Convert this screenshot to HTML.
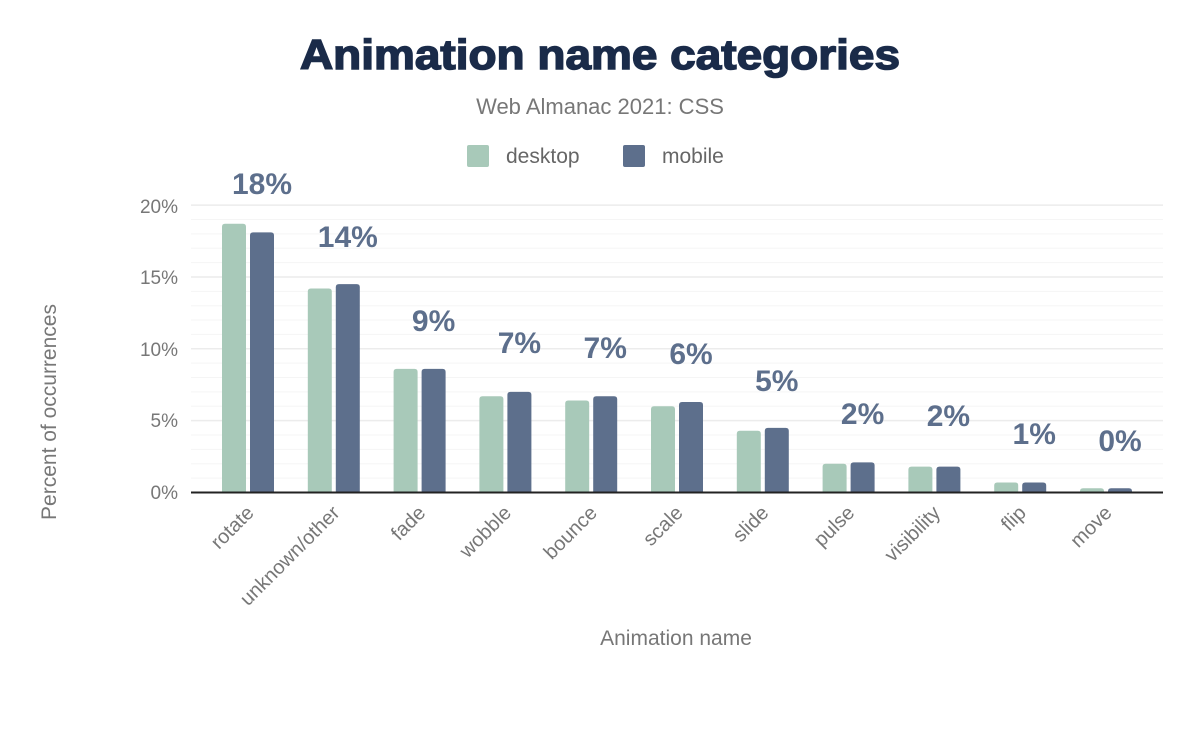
<!DOCTYPE html>
<html><head><meta charset="utf-8"><style>
body{margin:0;background:#fff;}
svg text{font-family:"Liberation Sans",sans-serif;}
</style></head><body>
<svg width="1200" height="742" viewBox="0 0 1200 742" xmlns="http://www.w3.org/2000/svg">
<rect width="1200" height="742" fill="#fff"/>
<text x="600" y="69" text-anchor="middle" font-size="42" font-weight="900" fill="#1a2b49" stroke="#1a2b49" stroke-width="1.5" textLength="600" lengthAdjust="spacingAndGlyphs">Animation name categories</text>
<text x="600" y="114" text-anchor="middle" font-size="22" fill="#777">Web Almanac 2021: CSS</text>
<rect x="467" y="145" width="22" height="22" rx="2" fill="#a8c9b9"/>
<text x="506" y="163" font-size="21" fill="#666">desktop</text>
<rect x="623" y="145" width="22" height="22" rx="2" fill="#5d6f8c"/>
<text x="662" y="163" font-size="21" fill="#666">mobile</text>
<g id="grid"></g>
<g id="bars"></g>
<line x1="191" y1="492.5" x2="1163" y2="492.5" stroke="#222" stroke-width="2"/>
<g font-size="19" fill="#777" text-anchor="end">
<text x="178" y="499">0%</text><text x="178" y="427">5%</text><text x="178" y="356">10%</text><text x="178" y="284">15%</text><text x="178" y="213">20%</text>
</g>
<g font-size="30" font-weight="bold" fill="#5d6f8c" text-anchor="middle">
<text x="262" y="194">18%</text>
<text x="347.8" y="247">14%</text>
<text x="433.6" y="331">9%</text>
<text x="519.4" y="353">7%</text>
<text x="605.2" y="358">7%</text>
<text x="691" y="364">6%</text>
<text x="776.8" y="391">5%</text>
<text x="862.6" y="424">2%</text>
<text x="948.4" y="426">2%</text>
<text x="1034.2" y="444">1%</text>
<text x="1120" y="451">0%</text>
</g>
<g font-size="20" fill="#777" text-anchor="end">
<text transform="translate(255,514) rotate(-45)">rotate</text>
<text transform="translate(340.8,514) rotate(-45)">unknown/other</text>
<text transform="translate(426.6,514) rotate(-45)">fade</text>
<text transform="translate(512.4,514) rotate(-45)">wobble</text>
<text transform="translate(598.2,514) rotate(-45)">bounce</text>
<text transform="translate(684,514) rotate(-45)">scale</text>
<text transform="translate(769.8,514) rotate(-45)">slide</text>
<text transform="translate(855.6,514) rotate(-45)">pulse</text>
<text transform="translate(941.4,514) rotate(-45)">visibility</text>
<text transform="translate(1027.2,514) rotate(-45)">flip</text>
<text transform="translate(1113,514) rotate(-45)">move</text>
</g>
<text transform="translate(56,412) rotate(-90)" text-anchor="middle" font-size="21" fill="#777">Percent of occurrences</text>
<text x="676" y="645" text-anchor="middle" font-size="21" fill="#777">Animation name</text>
<script>
var ns="http://www.w3.org/2000/svg";
function el(t,a,p){var e=document.createElementNS(ns,t);for(var k in a)e.setAttribute(k,a[k]);document.getElementById(p).appendChild(e);return e;}
var base=492.5,u=14.37;
for(var i=1;i<=20;i++){var y=base-i*u;el('line',{x1:191,x2:1163,y1:y,y2:y,stroke:i%5==0?'#ececec':'#f5f5f5','stroke-width':i%5==0?1.5:1},'grid');}
var d=[18.7,14.2,8.6,6.7,6.4,6.0,4.3,2.0,1.8,0.7,0.3];
var m=[18.1,14.5,8.6,7.0,6.7,6.3,4.5,2.1,1.8,0.7,0.3];
function bar(x,b,w,h){var r=Math.min(3,h);return 'M'+x+','+b+'V'+(b-h+r)+'Q'+x+','+(b-h)+' '+(x+r)+','+(b-h)+'H'+(x+w-r)+'Q'+(x+w)+','+(b-h)+' '+(x+w)+','+(b-h+r)+'V'+b+'Z';}
for(var i=0;i<11;i++){
 var x=222+85.8*i;
 el('path',{d:bar(x,base,24,d[i]*u),fill:'#a8c9b9'},'bars');
 el('path',{d:bar(x+28,base,24,m[i]*u),fill:'#5d6f8c'},'bars');
}
</script>
</svg>
</body></html>
